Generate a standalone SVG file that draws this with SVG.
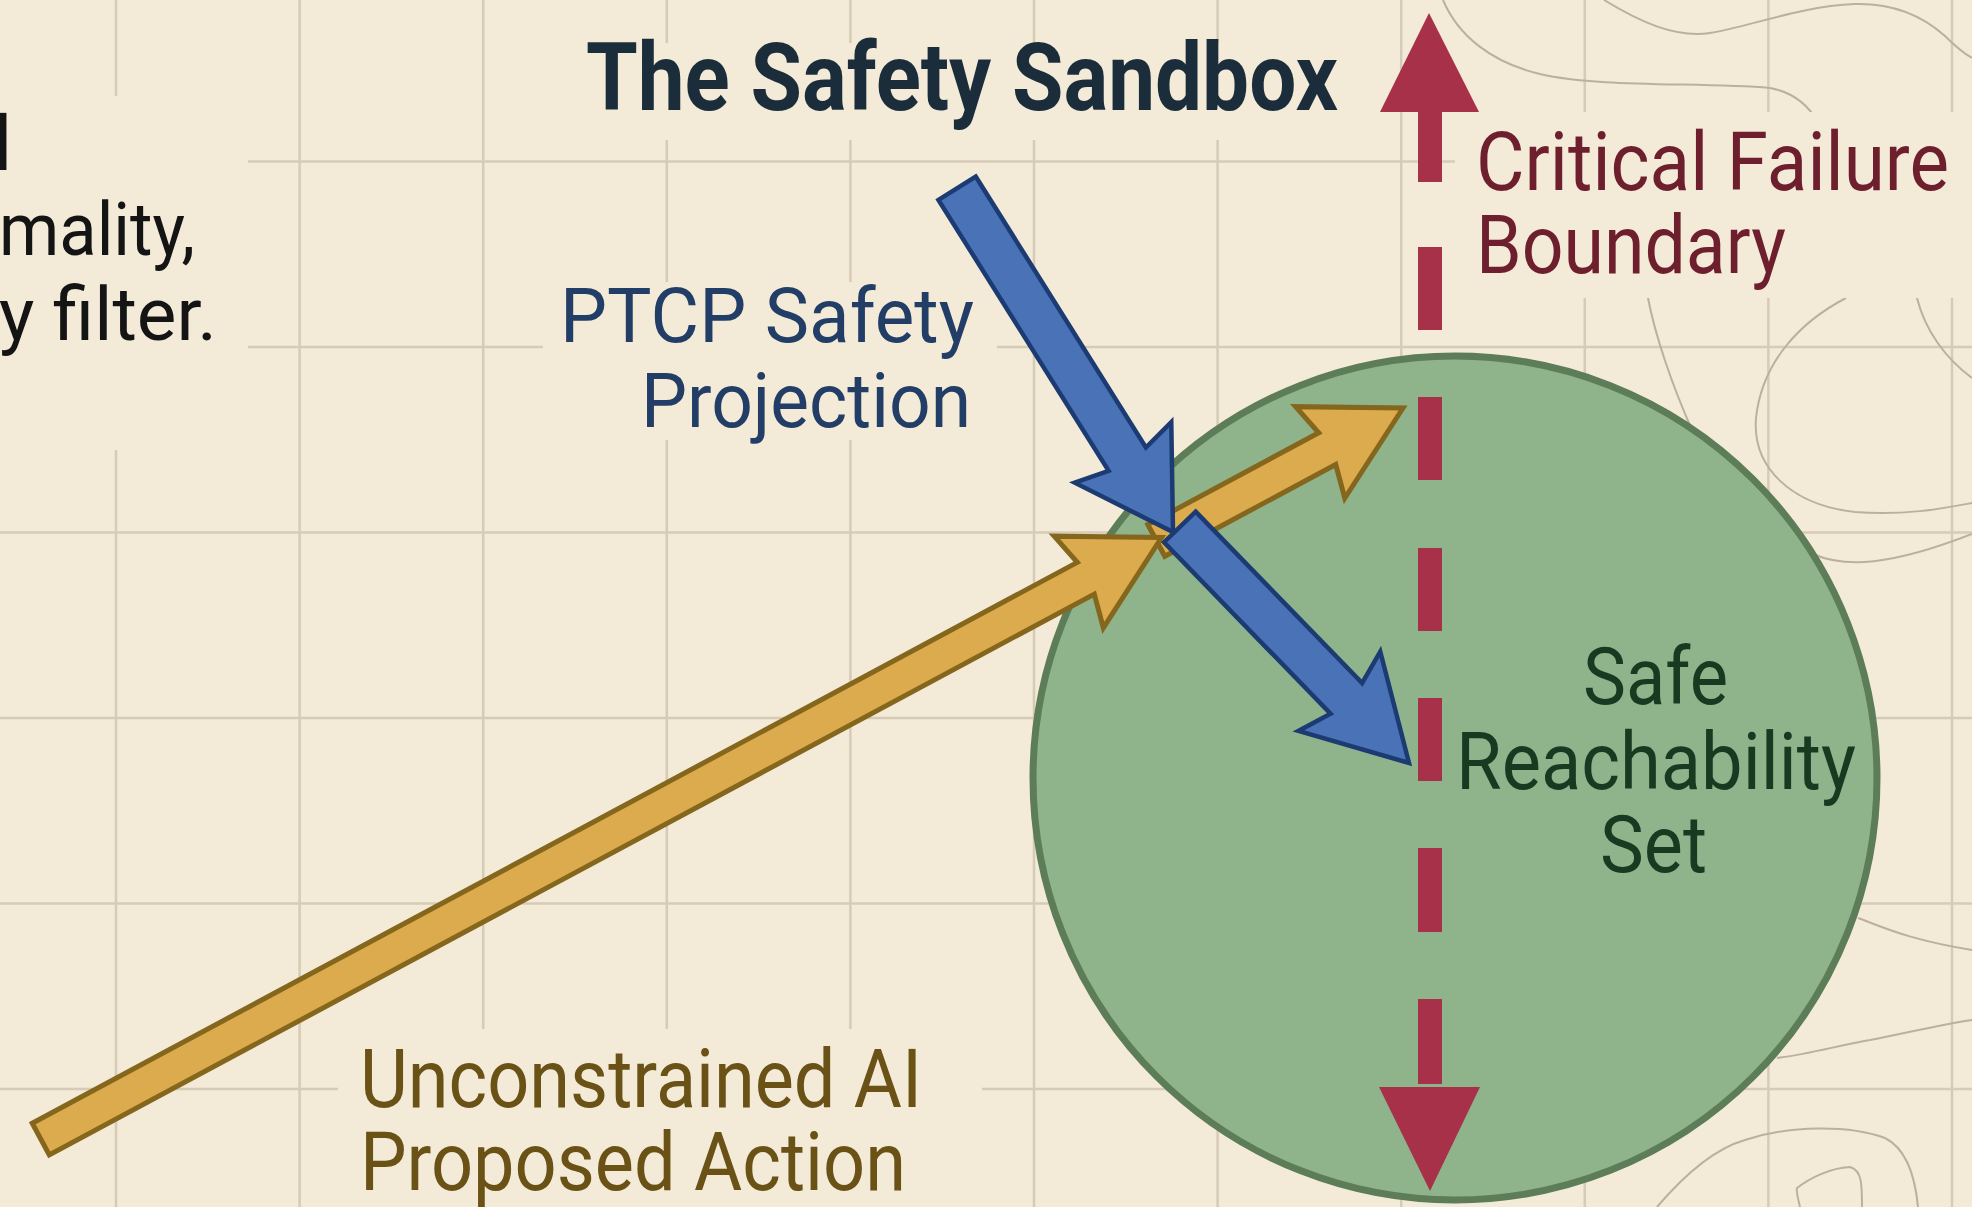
<svg xmlns="http://www.w3.org/2000/svg" width="1972" height="1207" viewBox="0 0 1972 1207">
<defs>
<style>
.bg{fill:#f3ebd7}
.grid{stroke:#d6cbb6;stroke-width:2.5;fill:none}
.topo{stroke:#bcb09c;stroke-width:2;fill:none}
.txt{font-family:Roboto,"Liberation Sans",sans-serif}
.title{font-weight:700;font-size:94px;fill:#1b2c3b}
.body{font-size:74px;fill:#141414}
.blue-t{font-size:76px;fill:#223d66}
.red-t{font-size:81px;fill:#6e1f2d}
.gold-t{font-size:82px;fill:#6a5116}
.green-t{font-size:80px;fill:#173a20}
.yel{fill:#dcab4e;stroke:#85661d;stroke-width:5;stroke-linejoin:miter}
.blu{fill:#4a72b6;stroke:#1c3b72;stroke-width:4.5;stroke-linejoin:miter}
.red{fill:#a8314a}
</style>
</defs>
<rect class="bg" x="0" y="0" width="1972" height="1207"/>
<path class="grid" d="M116,0V1207M299.6,0V1207M483.2,0V1207M666.8,0V1207M850.4,0V1207M1034,0V1207M1217.6,0V1207M1401.2,0V1207M1584.8,0V1207M1768.4,0V1207M1952,0V1207M0,161.5H1972M0,347H1972M0,532.5H1972M0,718H1972M0,903.5H1972M0,1089H1972"/>
<g id="topography">
<path class="topo" d="M1443,0 C1458,35 1490,62 1540,74 C1600,88 1700,82 1770,88 C1792,92 1808,105 1818,122"/>
<path class="topo" d="M1604,0 C1640,22 1675,38 1710,33 C1745,28 1800,6 1855,4 C1895,3 1925,18 1945,36 C1955,46 1965,54 1972,58"/>
<path class="topo" d="M1648,298 C1655,335 1672,385 1692,430"/>
<path class="topo" d="M1846,298 C1800,322 1762,362 1756,418 C1752,468 1792,505 1855,512 C1905,516 1945,508 1972,503"/>
<path class="topo" d="M1917,298 C1925,330 1945,358 1972,378"/>
<path class="topo" d="M1813,554 C1845,568 1890,566 1972,534"/>
<path class="topo" d="M1858,918 C1885,928 1910,940 1972,950"/>
<path class="topo" d="M1777,1058 C1810,1054 1840,1045 1870,1040 C1910,1032 1945,1024 1972,1020"/>
<path class="topo" d="M1657,1207 C1680,1180 1710,1150 1745,1140 C1790,1125 1850,1125 1885,1138 C1905,1148 1915,1175 1918,1207"/>
<path class="topo" d="M1800,1207 C1798,1198 1796,1192 1797,1188 C1810,1178 1830,1168 1850,1167 C1862,1170 1862,1185 1862,1207"/>
</g>
<g id="label-backdrops">
<rect class="bg" x="0" y="96" width="248" height="354"/>
<rect class="bg" x="540" y="43" width="840" height="97"/>
<rect class="bg" x="543" y="282" width="454" height="158"/>
<rect class="bg" x="1455" y="112" width="517" height="186"/>
<rect class="bg" x="338" y="1029" width="644" height="178"/>
</g>
<g id="title">
<text class="txt title" x="586" y="110" textLength="752" lengthAdjust="spacingAndGlyphs">The Safety Sandbox</text>
</g>
<g id="side-note">
<text class="txt body" x="-9" y="170" style="font-weight:700;font-size:76px">l</text>
<text class="txt body" x="-1" y="255" textLength="196" lengthAdjust="spacingAndGlyphs">mality,</text>
<text class="txt body" x="-1" y="340" textLength="218" lengthAdjust="spacingAndGlyphs">y filter.</text>
</g>
<g id="safe-set">
<circle cx="1455" cy="778" r="422" fill="#8fb48c" stroke="#5c7d57" stroke-width="7"/>
<text class="txt green-t" x="1583" y="704" textLength="145" lengthAdjust="spacingAndGlyphs">Safe</text>
<text class="txt green-t" x="1456" y="789" textLength="400" lengthAdjust="spacingAndGlyphs">Reachability</text>
<text class="txt green-t" x="1600" y="872" textLength="107" lengthAdjust="spacingAndGlyphs">Set</text>
</g>
<g id="label-ptcp">
<text class="txt blue-t" x="560" y="342" textLength="414" lengthAdjust="spacingAndGlyphs">PTCP Safety</text>
<text class="txt blue-t" x="641" y="427" textLength="330" lengthAdjust="spacingAndGlyphs">Projection</text>
</g>
<g id="label-boundary">
<text class="txt red-t" x="1476" y="190" textLength="473" lengthAdjust="spacingAndGlyphs">Critical Failure</text>
<text class="txt red-t" x="1476" y="273" textLength="310" lengthAdjust="spacingAndGlyphs">Boundary</text>
</g>
<g id="label-action">
<text class="txt gold-t" x="360" y="1107" textLength="562" lengthAdjust="spacingAndGlyphs">Unconstrained AI</text>
<text class="txt gold-t" x="360" y="1190" textLength="546" lengthAdjust="spacingAndGlyphs">Proposed Action</text>
</g>
<g id="connectors">
<g id="proposed-action" transform="translate(1403,408) rotate(-28.22)">
<polygon class="yel" points="-280,-18 -86,-18 -94,-52 0,0 -94,52 -86,18 -280,18"/>
<polygon class="yel" points="-1546,-18 -360,-18 -368,-52 -274,0 -368,52 -360,18 -1546,18"/>
</g>
<g id="safety-projection">
<polygon class="blu" transform="translate(1173,532) rotate(57.87)" points="-406,-22 -86,-22 -94,-57 0,0 -94,57 -86,22 -406,22"/>
<polygon class="blu" transform="translate(1409,763) rotate(45.86)" points="-329,-22 -90,-22 -100,-57 0,0 -100,57 -90,22 -329,22"/>
</g>
<g id="failure-boundary">
<polygon class="red" points="1429,13 1479,112 1380,112"/>
<rect class="red" x="1418" y="108" width="24" height="74"/>
<rect class="red" x="1418" y="247" width="24" height="83"/>
<rect class="red" x="1418" y="397" width="24" height="83"/>
<rect class="red" x="1418" y="548" width="24" height="83"/>
<rect class="red" x="1418" y="698" width="24" height="83"/>
<rect class="red" x="1418" y="848" width="24" height="84"/>
<rect class="red" x="1418" y="999" width="24" height="85"/>
<polygon class="red" points="1379,1087 1480,1087 1430,1191"/>
</g>
</g>
</svg>
